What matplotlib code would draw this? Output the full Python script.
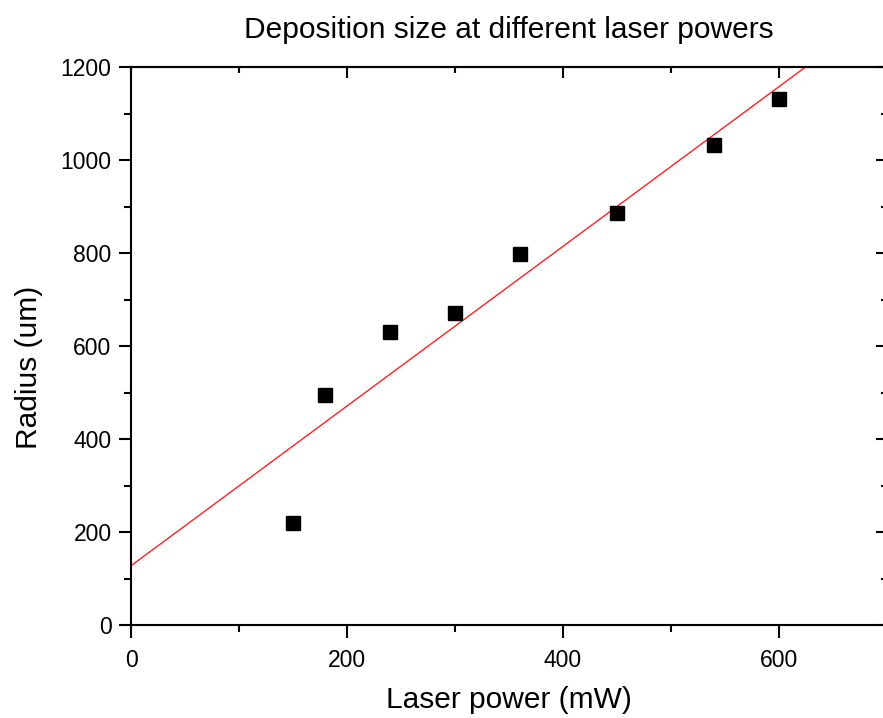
import numpy as np
import matplotlib.pyplot as plt
from matplotlib.ticker import MultipleLocator

# data
power = [150, 180, 240, 300, 360, 450, 540, 600]
radius = [219, 495, 630, 671, 798, 886, 1032, 1131]

plt.rcParams['font.family'] = ['Liberation Sans', 'DejaVu Sans']

slope, inter = np.polyfit(power, radius, 1)
xfit = np.array([0, 700])

fig = plt.figure(figsize=(8.83, 7.18), dpi=100)
ax = fig.add_axes([131 / 883, 1 - 625 / 718, 756 / 883, 558 / 718])

ax.plot(xfit, slope * xfit + inter, color='#ff2020', linewidth=1)
ax.plot(power, radius, 's', color='black', markersize=9.5, zorder=3)

ax.set_xlim(0, 700)
ax.set_ylim(0, 1200)
ax.xaxis.set_major_locator(MultipleLocator(200))
ax.xaxis.set_minor_locator(MultipleLocator(100))
ax.yaxis.set_major_locator(MultipleLocator(200))
ax.yaxis.set_minor_locator(MultipleLocator(100))

for s in ax.spines.values():
    s.set_linewidth(1.5)

ax.tick_params(which='major', direction='out', length=9, width=1.5,
               labelsize=16.5, pad=5)
ax.tick_params(axis='x', which='major', pad=8)
ax.tick_params(which='minor', direction='out', length=5, width=1.5)
# inward ticks on the top and right sides
ax2 = ax.secondary_xaxis('top')
ax2.xaxis.set_major_locator(MultipleLocator(200))
ax2.xaxis.set_minor_locator(MultipleLocator(100))
ax2.tick_params(which='major', direction='in', length=8, width=1.5, labeltop=False)
ax2.tick_params(which='minor', direction='in', length=4.5, width=1.5)
ax2.spines['top'].set_linewidth(1.5)
ax3 = ax.secondary_yaxis('right')
ax3.yaxis.set_major_locator(MultipleLocator(200))
ax3.yaxis.set_minor_locator(MultipleLocator(100))
ax3.tick_params(which='major', direction='in', length=8, width=1.5, labelright=False)
ax3.tick_params(which='minor', direction='in', length=4.5, width=1.5)
ax3.spines['right'].set_linewidth(1.5)

ax.set_xlabel('Laser power (mW)', fontsize=21.5, labelpad=10)
ax.set_ylabel('Radius (um)', fontsize=21.5)
ax.yaxis.set_label_coords(-0.117, 0.462)
ax.set_title('Deposition size at different laser powers', fontsize=21.5, pad=21)

fig.savefig('out.png', dpi=100)
